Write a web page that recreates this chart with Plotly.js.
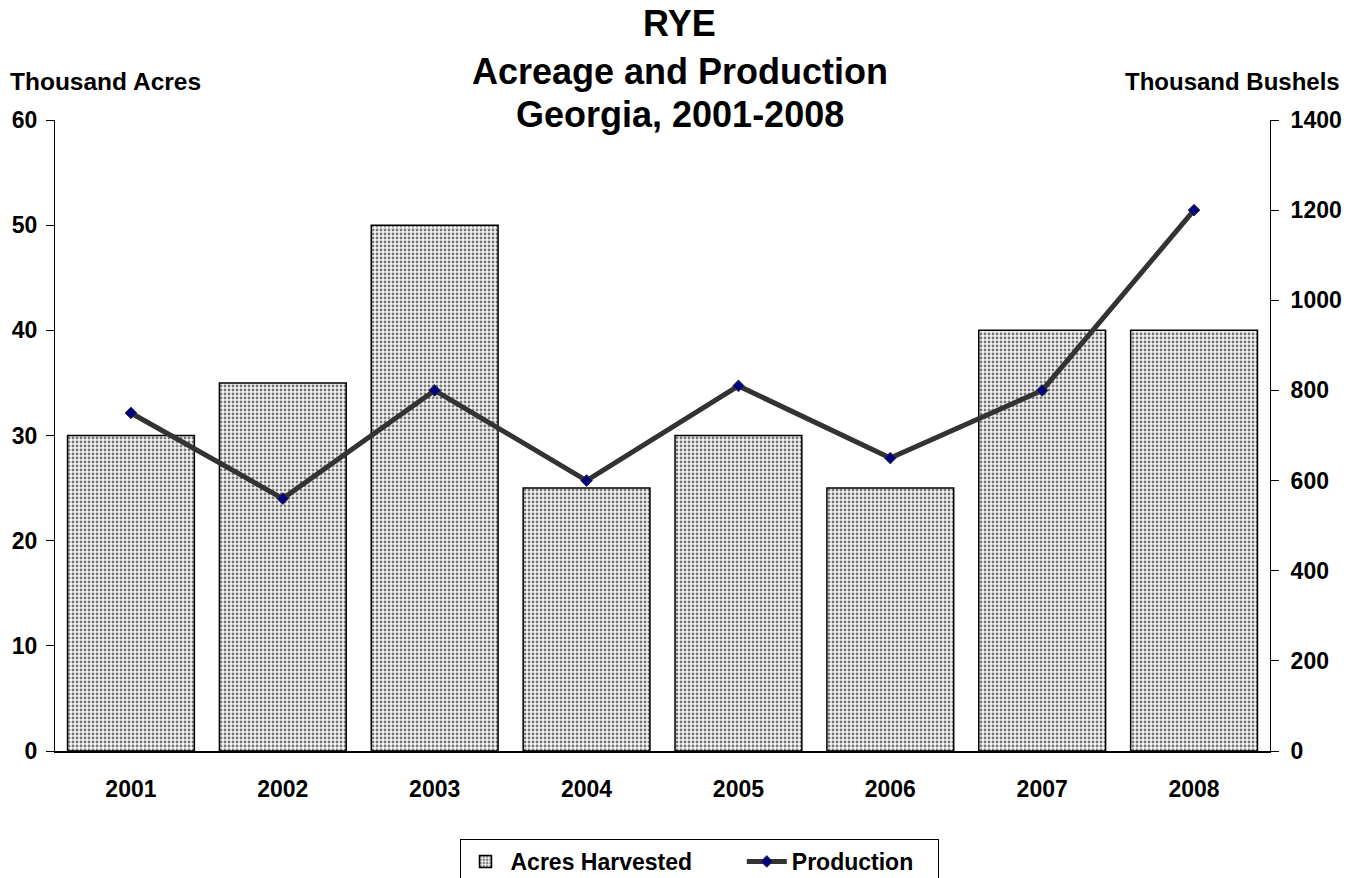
<!DOCTYPE html>
<html>
<head>
<meta charset="utf-8">
<script src="https://cdn.plot.ly/plotly-3.0.1.min.js"></script>
<style>html,body{margin:0;padding:0;background:#fff;}#chart{width:1359px;height:878px;}</style>
</head>
<body>
<div id="chart"></div>
<script>
const years = ['2001','2002','2003','2004','2005','2006','2007','2008'];
const acresHarvested = [30, 35, 50, 25, 30, 25, 40, 40];
const production = [750, 560, 800, 600, 810, 650, 800, 1200];
const leftTicks = [0, 10, 20, 30, 40, 50, 60];
const rightTicks = [0, 200, 400, 600, 800, 1000, 1200, 1400];
const titleLines = ['RYE', 'Acreage and Production', 'Georgia, 2001-2008'];

const FONT = 'Liberation Sans, Arial, sans-serif';
const tickFont = {family: FONT, size: 23, color: '#000', weight: 'bold'};
const NB = '\u00a0';

const traces = [
  {
    type: 'bar', name: '<b>Acres Harvested</b>' + NB.repeat(7), x: years, y: acresHarvested,
    xaxis: 'x', yaxis: 'y',
    marker: {
      color: '#f6f6f6',
      pattern: {shape: '.', fgcolor: '#777777', bgcolor: '#f6f6f6', size: 4, solidity: 0.4},
      line: {color: '#000', width: 1.5}
    },
    hoverinfo: 'skip'
  },
  {
    type: 'scatter', mode: 'lines+markers', name: '<b>Production</b>' + NB.repeat(3), x: years, y: production,
    xaxis: 'x', yaxis: 'y2',
    line: {color: '#333333', width: 5},
    marker: {symbol: 'diamond', size: 9, color: '#000080', line: {color: '#333333', width: 1}},
    hoverinfo: 'skip'
  }
];

// title line centres in pixels from the top of the page
const titleCenters = [24, 71, 114];
const plotTop = 120, plotH = 878 - 120 - 127, plotW = 1359 - 55 - 89;
const titleAnns = titleLines.map((t, i) => ({
  text: '<b>' + t + '</b>', xref: 'paper', yref: 'paper',
  x: (679.5 - 55) / plotW, y: 1 + (plotTop - titleCenters[i]) / plotH,
  xanchor: 'center', yanchor: 'middle', showarrow: false,
  font: {family: FONT, size: 36, color: '#000'}
}));

const layout = {
  width: 1359, height: 878,
  paper_bgcolor: '#fff', plot_bgcolor: '#fff',
  margin: {l: 55, r: 89, t: 120, b: 127},
  bargap: 0.165,
  showlegend: true,
  font: {family: FONT, color: '#000'},
  xaxis: {
    type: 'category', showgrid: false, zeroline: false,
    showline: true, linecolor: '#000', linewidth: 2,
    ticks: '', ticklabelstandoff: 16,
    tickfont: tickFont
  },
  yaxis: {
    range: [0, 60], tickvals: leftTicks, showgrid: false, zeroline: false,
    showline: true, linecolor: '#000', linewidth: 1,
    ticks: 'outside', ticklen: 8, tickcolor: '#000', tickwidth: 1,
    ticklabelstandoff: 4,
    tickfont: tickFont
  },
  yaxis2: {
    range: [0, 1400], tickvals: rightTicks, overlaying: 'y', side: 'right',
    showgrid: false, zeroline: false,
    showline: true, linecolor: '#000', linewidth: 1,
    ticks: 'outside', ticklen: 8, tickcolor: '#000', tickwidth: 1,
    ticklabelstandoff: 7,
    tickfont: tickFont
  },
  yaxis3: {
    range: [0, 60], tickvals: leftTicks, overlaying: 'y', side: 'left',
    showgrid: false, zeroline: false, showline: false, showticklabels: false,
    ticks: 'inside', ticklen: 8, tickcolor: '#000', tickwidth: 1
  },
  yaxis4: {
    range: [0, 1400], tickvals: rightTicks, overlaying: 'y', side: 'right',
    showgrid: false, zeroline: false, showline: false, showticklabels: false,
    ticks: 'inside', ticklen: 8, tickcolor: '#000', tickwidth: 1
  },
  legend: {
    orientation: 'h',
    x: 699/1359, xref: 'container', xanchor: 'center',
    y: 1 - 839/878, yref: 'container', yanchor: 'top',
    bordercolor: '#000', borderwidth: 1, bgcolor: '#fff',
    font: {family: FONT, size: 23, color: '#000'},
    traceorder: 'normal', itemwidth: 40
  },
  annotations: titleAnns.concat([
    {text: '<b>Thousand Acres</b>', xref: 'paper', yref: 'paper', x: (8 - 55) / plotW, y: 1 + (120 - 82) / plotH,
     xanchor: 'left', yanchor: 'middle', showarrow: false,
     font: {family: FONT, size: 24.5, color: '#000'}},
    {text: '<b>Thousand Bushels</b>', xref: 'paper', yref: 'paper', x: 1 + (1342 - 1270) / plotW, y: 1 + (120 - 82) / plotH,
     xanchor: 'right', yanchor: 'middle', showarrow: false,
     font: {family: FONT, size: 24, color: '#000'}}
  ])
};

Plotly.newPlot('chart', traces, layout, {displayModeBar: false, staticPlot: true});
</script>
</body>
</html>
